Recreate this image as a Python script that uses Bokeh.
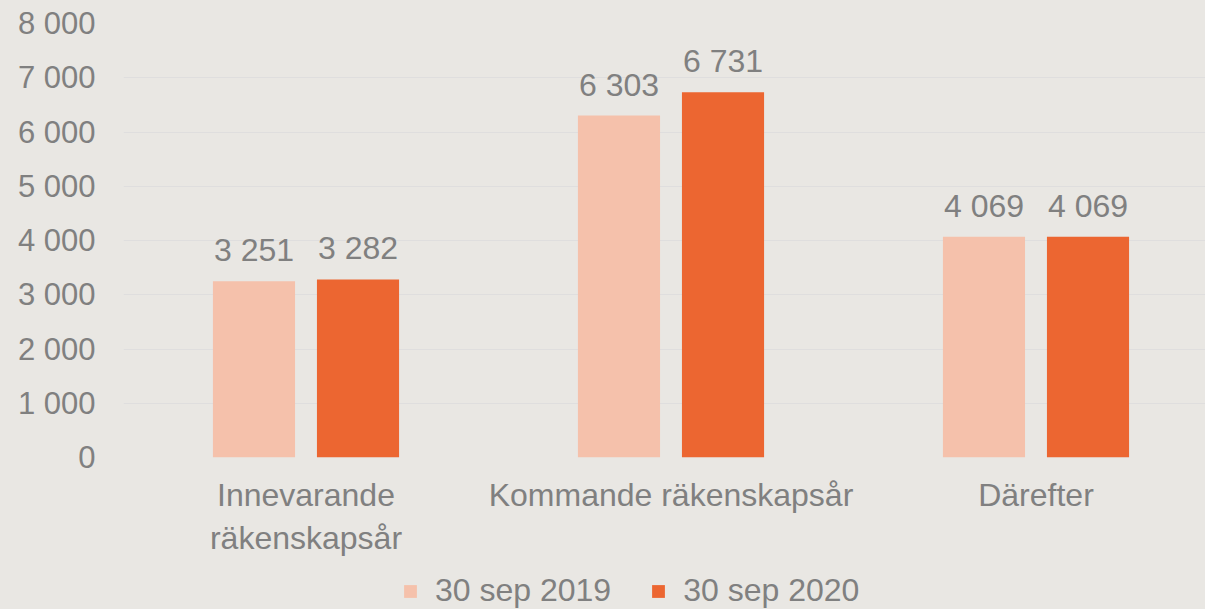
from bokeh.plotting import figure
from bokeh.models import ColumnDataSource, Range1d, FixedTicker, Legend, LegendItem
from bokeh.layouts import column
from bokeh.transform import dodge
from bokeh.core.properties import value
from bokeh.embed import file_html
from bokeh.resources import INLINE

categories = ["Innevarande\nräkenskapsår", "Kommande räkenskapsår", "Därefter"]
series_names = ["30 sep 2019", "30 sep 2020"]
values_2019 = [3251, 6303, 4069]
values_2020 = [3282, 6731, 4069]
y_ticks = [0, 1000, 2000, 3000, 4000, 5000, 6000, 7000, 8000]

BG = "#E9E7E3"
C1 = "#F5C1AB"
C2 = "#EC6631"
TXT = "#808080"
FONT = "Liberation Sans"

def fmt(v):
    return f"{v:,}".replace(",", " ")

xs = [i + 0.5 for i in range(len(categories))]
src = ColumnDataSource(dict(
    x=xs, a=values_2019, b=values_2020,
    la=[fmt(v) for v in values_2019], lb=[fmt(v) for v in values_2020],
))

p = figure(width=1205, height=560, output_backend="svg", toolbar_location=None,
           x_range=Range1d(0, 2.9644), y_range=Range1d(0, 8000),
           min_border_left=123, min_border_right=0, min_border_top=23, min_border_bottom=103)
p.background_fill_color = BG
p.border_fill_color = BG
p.outline_line_color = None

off = 0.1425
w = 0.225
p.vbar(x=dodge("x", -off), top="a", width=w, source=src, color=C1, line_color=None)
p.vbar(x=dodge("x", off), top="b", width=w, source=src, color=C2, line_color=None)

for fld, lab, o in (("a", "la", -off), ("b", "lb", off)):
    p.text(x=dodge("x", o), y=fld, text=lab, source=src, text_align="center",
           text_baseline="alphabetic", y_offset=-31, text_color=TXT,
           text_font=value(FONT), text_font_size="32px")

p.xgrid.grid_line_color = None
p.ygrid.grid_line_color = "#DFDEDE"
p.ygrid.grid_line_width = 1
p.ygrid.ticker = FixedTicker(ticks=y_ticks)

p.yaxis.ticker = FixedTicker(ticks=y_ticks)
p.yaxis.major_label_overrides = {t: fmt(t) for t in y_ticks}
p.xaxis.ticker = FixedTicker(ticks=xs)
p.xaxis.major_label_overrides = {x: c for x, c in zip(xs, categories)}

for ax in (p.xaxis[0], p.yaxis[0]):
    ax.axis_line_color = None
    ax.major_tick_line_color = None
    ax.minor_tick_line_color = None
    ax.major_tick_out = 0
    ax.major_tick_in = 0
    ax.minor_tick_out = 0
    ax.minor_tick_in = 0
    ax.major_label_text_color = TXT
    ax.major_label_text_font = FONT
    ax.major_label_text_font_size = "32px"
p.yaxis.major_label_text_font_size = "31px"
p.yaxis.major_label_standoff = 28
p.xaxis.major_label_standoff = 19

# legend strip below the chart (zero-height swatch renderers, only used for the legend)
lg = figure(width=1205, height=49, output_backend="svg", toolbar_location=None,
            x_range=Range1d(0, 1), y_range=Range1d(0, 1),
            x_axis_location=None, y_axis_location=None,
            min_border=0, min_border_left=0, min_border_right=0,
            min_border_top=0, min_border_bottom=0)
lg.background_fill_color = BG
lg.border_fill_color = BG
lg.outline_line_color = None
lg.grid.grid_line_color = None
d1 = lg.vbar(x=[0.5], top=[0], width=0.1, fill_color=C1, line_color=None)
d2 = lg.vbar(x=[0.5], top=[0], width=0.1, fill_color=C2, line_color=None)

legend = Legend(items=[LegendItem(label=series_names[0], renderers=[d1]),
                       LegendItem(label=series_names[1], renderers=[d2])],
                orientation="horizontal", location=(279, 0),
                glyph_width=16, glyph_height=16, label_standoff=17, spacing=39,
                padding=0, margin=0, background_fill_alpha=0, border_line_alpha=0,
                label_text_color=TXT, label_text_font=FONT, label_text_font_size="32px",
                label_height=16)
lg.add_layout(legend, "center")

layout = column(p, lg, spacing=0)
html = file_html(layout, INLINE)
html = html.replace("<head>", "<head><style>body{background:%s}</style>" % BG, 1)
open("out.html", "w").write(html)
